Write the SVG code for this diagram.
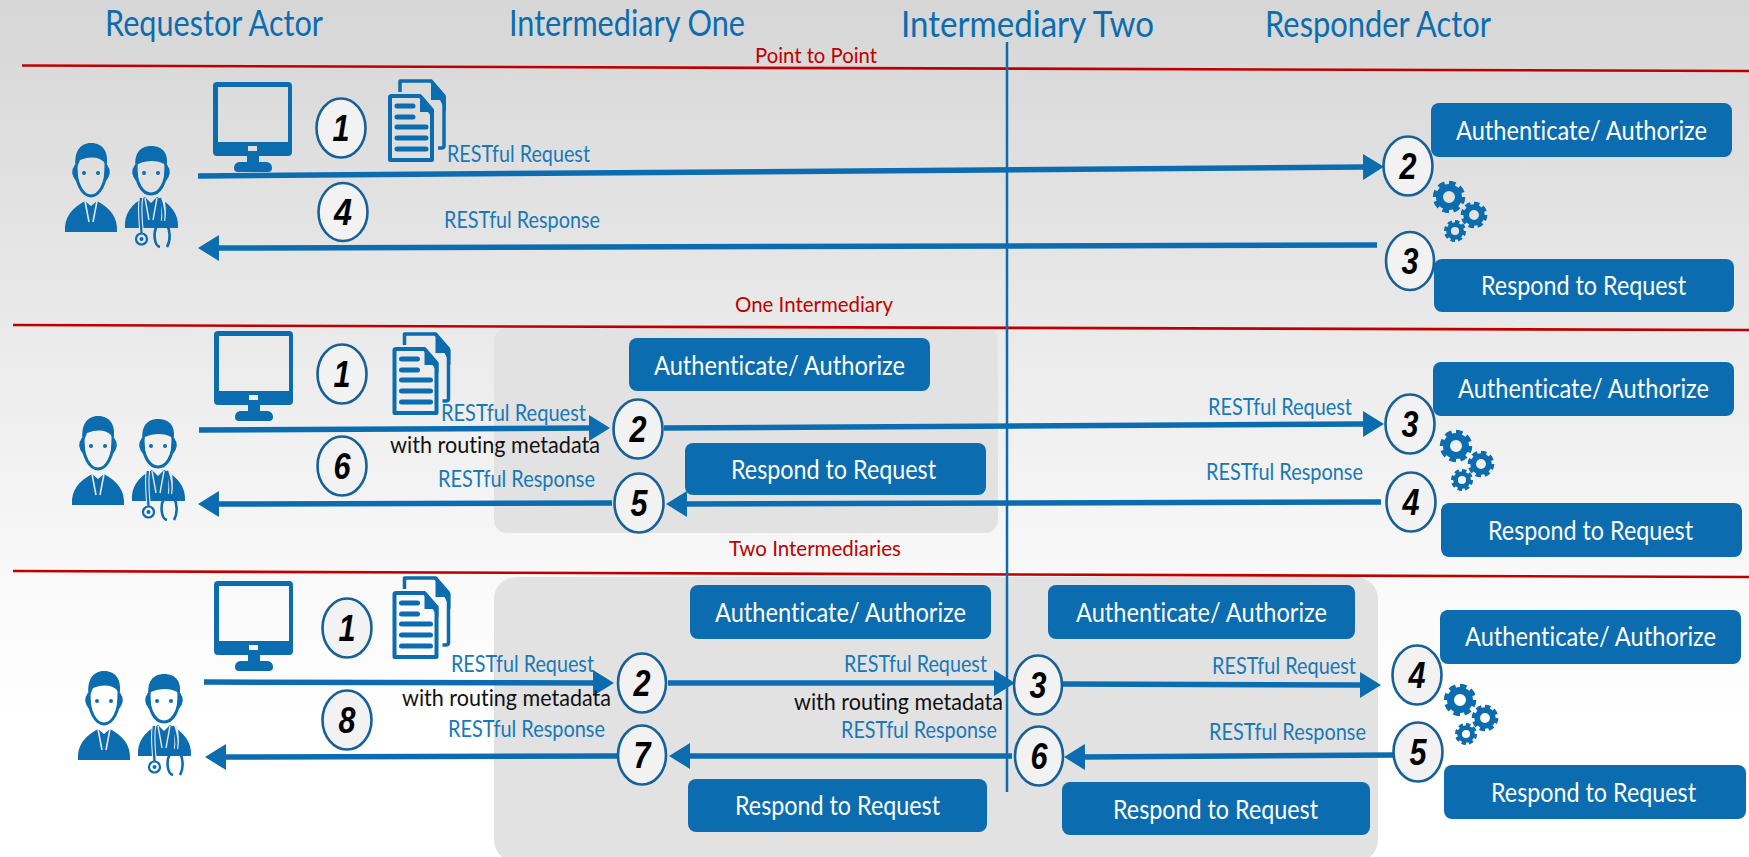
<svg xmlns="http://www.w3.org/2000/svg" xmlns:xlink="http://www.w3.org/1999/xlink" width="1749" height="857" viewBox="0 0 1749 857">
<style>
text{font-family:"Lato","Noto Sans","Liberation Sans",sans-serif;font-variant-ligatures:none}
.hd{font-size:36px;fill:#0b6cb0}
.lb{font-size:23px;fill:#1878b8}
.bk{font-size:23px;fill:#111}
.rd{font-size:21px;fill:#c00000}
.bx{fill:#0b6cb0}
.bt{font-size:26.500px;fill:#fff}
.pn{fill:#e2e2e2}
.cc{fill:#f2f2f2;stroke:#17609a;stroke-width:2.6}
.nm{font-family:"Liberation Sans",sans-serif;font-size:36px;font-weight:bold;font-style:italic;fill:#000;text-anchor:middle}
.rl{stroke:#c00000;stroke-width:2.6;fill:none}
.ar{stroke:#0b6cb0;stroke-width:5.5;fill:none}
.ah{marker-end:url(#head)}
.ic{fill:#0b6cb0}
.il{fill:none;stroke:#0b6cb0}
</style>
<defs>
<linearGradient id="bg" x1="0" y1="0" x2="0" y2="1">
<stop offset="0" stop-color="#d6d6d6"/><stop offset="0.35" stop-color="#e8e8e8"/><stop offset="0.72" stop-color="#fbfbfb"/><stop offset="0.85" stop-color="#fff"/>
</linearGradient>
<marker id="head" markerUnits="userSpaceOnUse" markerWidth="24" markerHeight="28" refX="2" refY="14" orient="auto">
<path d="M0 1L21 14L0 27Z" fill="#0b6cb0"/>
</marker>
<g id="people">
<!-- man -->
<path class="il" stroke-width="3" d="M76 165C75 184 83 196 91 196C99 196 107 184 106 165"/>
<path class="ic" d="M76 170C73 152 80 143 91 143C103 143 110 152 106 170L104 162C100 158 92 155 80 160Z"/>
<path class="ic" d="M75 165Q69 172 76 181L78 178L77 166ZM107 165Q113 172 106 181L104 178L105 166Z"/>
<circle class="ic" cx="84" cy="173" r="2"/><circle class="ic" cx="98" cy="173" r="2"/>
<path class="ic" d="M65 232C64 217 72 208 85 201L91 206L97 201C110 208 118 217 117 232Z"/>
<path d="M85 201L89 222M97 201L93 222" stroke="#e6e6e6" stroke-width="1.600" fill="none"/>
<!-- doctor -->
<path class="il" stroke-width="3" d="M136 165C135 184 143 194 151 194C159 194 167 184 166 165"/>
<path class="ic" d="M136 170C133 154 140 146 151 146C163 146 170 154 166 170L164 164C158 160 146 160 138 164Z"/>
<path class="ic" d="M135 165Q129 172 136 181L138 178L137 166ZM167 165Q173 172 166 181L164 178L165 166Z"/>
<circle class="ic" cx="144" cy="173" r="2"/><circle class="ic" cx="158" cy="173" r="2"/>
<path class="ic" d="M125 228C124 214 131 204 145 197L151 203L157 197C171 204 179 214 178 228Z"/>
<path d="M145 198L149 220M157 198L153 220" stroke="#e6e6e6" stroke-width="1.400" fill="none"/>
<path d="M141 198C139 210 141 222 141.500 233M162 198C164 206 164 214 163 221" stroke="#e6e6e6" stroke-width="4.500" fill="none"/>
<path class="il" d="M141 198C139 210 141 222 141.500 233" stroke-width="2.200"/>
<circle class="il" cx="141.500" cy="239" r="5.500" stroke-width="2.200"/><circle class="ic" cx="141.500" cy="239" r="2"/>
<path class="il" d="M160 198C163 206 164 214 163 221" stroke-width="2.200"/>
<path class="il" d="M157 226C153 232 154 246 160 247M167 247C171 240 170 230 167 225C164 220 160 222 157 226" stroke-width="2.600"/>
</g>
<g id="monitor">
<path class="ic" fill-rule="evenodd" d="M217 82H288Q292 82 292 86V152Q292 156 288 156H217Q213 156 213 152V86Q213 82 217 82ZM218 87V142H288V87ZM248 146V151H257V146Z"/>
<path class="ic" d="M247 156H259V162H267Q272 163 272 168Q272 172 268 172H238Q234 172 234 168Q234 163 239 162H247Z"/>
</g>
<g id="docs">
<path class="il" stroke-width="3.500" stroke-linejoin="round" d="M400 92V81H431L444 96V146C444 148 442 148 438 148"/>
<path class="ic" d="M431 79L446 97L446 112L440 100L431 100Z"/>
<path class="il" stroke-width="4" stroke-linejoin="round" d="M390 97Q390 96 392 96H420L432 110V160H390Z"/>
<path class="ic" d="M420 94L434 110V120L428 112H420Z"/>
<path d="M397 106H413M397 117H413M397 127H426M397 138H426M397 149H426" stroke="#0b6cb0" stroke-width="5" stroke-linecap="round" fill="none"/>
</g>
<g id="gear">
<circle class="il" r="9.500" stroke-width="7"/>
<circle class="il" r="14" stroke-width="4.500" pathLength="16" stroke-dasharray="1.200 .8"/>
</g>
<g id="gears">
<use xlink:href="#gear" href="#gear" transform="translate(1449 197)"/>
<use xlink:href="#gear" href="#gear" transform="translate(1474 215) scale(.82)"/>
<use xlink:href="#gear" href="#gear" transform="translate(1455 231) scale(.68)"/>
</g>
</defs>

<rect width="1749" height="857" fill="url(#bg)"/>
<rect id="panel-one" class="pn" x="494" y="328" width="504" height="205" rx="13"/>
<rect id="panel-two" class="pn" x="494" y="577" width="884" height="285" rx="22"/>

<g id="headers">
<text class="hd" x="105" y="36" textLength="218" lengthAdjust="spacingAndGlyphs">Requestor Actor</text>
<text class="hd" x="509" y="36" textLength="236" lengthAdjust="spacingAndGlyphs">Intermediary One</text>
<text class="hd" x="901" y="37" textLength="253" lengthAdjust="spacingAndGlyphs">Intermediary Two</text>
<text class="hd" x="1265" y="37" textLength="226" lengthAdjust="spacingAndGlyphs">Responder Actor</text>
</g>
<g id="separators">
<line class="rl" x1="22" y1="65.500" x2="1749" y2="71"/>
<line class="rl" x1="13" y1="325" x2="1749" y2="330"/>
<line class="rl" x1="13" y1="571" x2="1749" y2="577"/>
<text class="rd" x="755" y="63" textLength="122" lengthAdjust="spacingAndGlyphs">Point to Point</text>
<text class="rd" x="735" y="312" textLength="158" lengthAdjust="spacingAndGlyphs">One Intermediary</text>
<text class="rd" x="729" y="556" textLength="172" lengthAdjust="spacingAndGlyphs">Two Intermediaries</text>
</g>

<g id="connectors">
<line x1="1007" y1="42" x2="1007" y2="792" stroke="#0b6cb0" stroke-width="2.500"/>
<line class="ar ah" x1="198" y1="176" x2="1365" y2="167"/>
<line class="ar ah" x1="1377" y1="245" x2="217" y2="248"/>
<line class="ar ah" x1="199" y1="430" x2="591" y2="428"/>
<line class="ar ah" x1="664" y1="428" x2="1365" y2="424"/>
<line class="ar ah" x1="1381" y1="502" x2="685" y2="504"/>
<line class="ar ah" x1="612" y1="503" x2="217" y2="504"/>
<line class="ar ah" x1="204" y1="682" x2="595" y2="683"/>
<line class="ar ah" x1="668" y1="683" x2="996" y2="683"/>
<line class="ar ah" x1="1060" y1="684" x2="1362" y2="685"/>
<line class="ar ah" x1="1394" y1="755" x2="1083" y2="757"/>
<line class="ar ah" x1="1012" y1="756" x2="688" y2="756"/>
<line class="ar ah" x1="617" y1="756" x2="224" y2="757"/>
</g>

<g id="labels">
<text class="lb" x="447" y="162" textLength="143" lengthAdjust="spacingAndGlyphs">RESTful Request</text>
<text class="lb" x="444" y="228" textLength="156" lengthAdjust="spacingAndGlyphs">RESTful Response</text>
<text class="lb" x="441" y="421" textLength="145" lengthAdjust="spacingAndGlyphs">RESTful Request</text>
<text class="bk" x="390" y="453" textLength="210" lengthAdjust="spacingAndGlyphs">with routing metadata</text>
<text class="lb" x="438" y="487" textLength="157" lengthAdjust="spacingAndGlyphs">RESTful Response</text>
<text class="lb" x="1208" y="415" textLength="144" lengthAdjust="spacingAndGlyphs">RESTful Request</text>
<text class="lb" x="1206" y="480" textLength="157" lengthAdjust="spacingAndGlyphs">RESTful Response</text>
<text class="lb" x="451" y="672" textLength="143" lengthAdjust="spacingAndGlyphs">RESTful Request</text>
<text class="bk" x="402" y="706" textLength="209" lengthAdjust="spacingAndGlyphs">with routing metadata</text>
<text class="lb" x="448" y="737" textLength="157" lengthAdjust="spacingAndGlyphs">RESTful Response</text>
<text class="lb" x="844" y="672" textLength="143" lengthAdjust="spacingAndGlyphs">RESTful Request</text>
<text class="bk" x="794" y="710" textLength="209" lengthAdjust="spacingAndGlyphs">with routing metadata</text>
<text class="lb" x="841" y="738" textLength="156" lengthAdjust="spacingAndGlyphs">RESTful Response</text>
<text class="lb" x="1212" y="674" textLength="144" lengthAdjust="spacingAndGlyphs">RESTful Request</text>
<text class="lb" x="1209" y="740" textLength="157" lengthAdjust="spacingAndGlyphs">RESTful Response</text>
</g>

<g id="requestor-1"><use xlink:href="#people" href="#people"/><use xlink:href="#monitor" href="#monitor"/><use xlink:href="#docs" href="#docs"/></g>
<g id="requestor-2" ><use xlink:href="#people" href="#people" x="7" y="273"/><use xlink:href="#monitor" href="#monitor" x="1" y="249"/><use xlink:href="#docs" href="#docs" x="4.500" y="253"/></g>
<g id="requestor-3"><use xlink:href="#people" href="#people" x="13" y="528"/><use xlink:href="#monitor" href="#monitor" x="1" y="499"/><use xlink:href="#docs" href="#docs" x="4.500" y="497"/></g>
<g id="gears-1"><use xlink:href="#gears" href="#gears"/></g>
<g id="gears-2"><use xlink:href="#gears" href="#gears" x="7" y="249"/></g>
<g id="gears-3"><use xlink:href="#gears" href="#gears" x="11" y="503"/></g>

<g id="auth-1"><rect class="bx" x="1431" y="103" width="301" height="54" rx="8"/><text class="bt" x="1456" y="140" textLength="251" lengthAdjust="spacingAndGlyphs">Authenticate/ Authorize</text></g>
<g id="resp-1"><rect class="bx" x="1434" y="259" width="300" height="53" rx="8"/><text class="bt" x="1481" y="295" textLength="205" lengthAdjust="spacingAndGlyphs">Respond to Request</text></g>
<g id="auth-2a"><rect class="bx" x="629" y="338" width="301" height="53" rx="8"/><text class="bt" x="654" y="375" textLength="251" lengthAdjust="spacingAndGlyphs">Authenticate/ Authorize</text></g>
<g id="resp-2a"><rect class="bx" x="685" y="443" width="301" height="52" rx="8"/><text class="bt" x="731" y="479" textLength="205" lengthAdjust="spacingAndGlyphs">Respond to Request</text></g>
<g id="auth-2b"><rect class="bx" x="1433" y="362" width="301" height="54" rx="8"/><text class="bt" x="1458" y="398" textLength="251" lengthAdjust="spacingAndGlyphs">Authenticate/ Authorize</text></g>
<g id="resp-2b"><rect class="bx" x="1441" y="503" width="301" height="54" rx="8"/><text class="bt" x="1488" y="540" textLength="205" lengthAdjust="spacingAndGlyphs">Respond to Request</text></g>
<g id="auth-3a"><rect class="bx" x="690" y="585" width="301" height="54" rx="8"/><text class="bt" x="715" y="622" textLength="251" lengthAdjust="spacingAndGlyphs">Authenticate/ Authorize</text></g>
<g id="resp-3a"><rect class="bx" x="688" y="779" width="299" height="53" rx="8"/><text class="bt" x="735" y="815" textLength="205" lengthAdjust="spacingAndGlyphs">Respond to Request</text></g>
<g id="auth-3b"><rect class="bx" x="1048" y="585" width="307" height="54" rx="8"/><text class="bt" x="1076" y="622" textLength="251" lengthAdjust="spacingAndGlyphs">Authenticate/ Authorize</text></g>
<g id="resp-3b"><rect class="bx" x="1062" y="782" width="308" height="53" rx="8"/><text class="bt" x="1113" y="819" textLength="205" lengthAdjust="spacingAndGlyphs">Respond to Request</text></g>
<g id="auth-3c"><rect class="bx" x="1440" y="610" width="301" height="54" rx="8"/><text class="bt" x="1465" y="646" textLength="251" lengthAdjust="spacingAndGlyphs">Authenticate/ Authorize</text></g>
<g id="resp-3c"><rect class="bx" x="1444" y="765" width="302" height="54" rx="8"/><text class="bt" x="1491" y="802" textLength="205" lengthAdjust="spacingAndGlyphs">Respond to Request</text></g>

<g id="step-1-1"><ellipse class="cc" cx="341" cy="128" rx="24.500" ry="29.500"/><text class="nm" x="341" y="141" textLength="17" lengthAdjust="spacingAndGlyphs">1</text></g>
<g id="step-1-4"><ellipse class="cc" cx="343" cy="212" rx="24.500" ry="29"/><text class="nm" x="343" y="225" textLength="18" lengthAdjust="spacingAndGlyphs">4</text></g>
<g id="step-1-2"><ellipse class="cc" cx="1408" cy="166" rx="24.500" ry="29.500"/><text class="nm" x="1408" y="179" textLength="17" lengthAdjust="spacingAndGlyphs">2</text></g>
<g id="step-1-3"><ellipse class="cc" cx="1410" cy="261" rx="24" ry="29"/><text class="nm" x="1410" y="274" textLength="17" lengthAdjust="spacingAndGlyphs">3</text></g>
<g id="step-2-1"><ellipse class="cc" cx="342" cy="374" rx="24.500" ry="29.500"/><text class="nm" x="342" y="387" textLength="17" lengthAdjust="spacingAndGlyphs">1</text></g>
<g id="step-2-6"><ellipse class="cc" cx="342" cy="466" rx="24.500" ry="29.500"/><text class="nm" x="342" y="479" textLength="17" lengthAdjust="spacingAndGlyphs">6</text></g>
<g id="step-2-2"><ellipse class="cc" cx="638" cy="429" rx="24.500" ry="29.500"/><text class="nm" x="638" y="442" textLength="17" lengthAdjust="spacingAndGlyphs">2</text></g>
<g id="step-2-5"><ellipse class="cc" cx="639" cy="503" rx="24.500" ry="29.500"/><text class="nm" x="639" y="516" textLength="17" lengthAdjust="spacingAndGlyphs">5</text></g>
<g id="step-2-3"><ellipse class="cc" cx="1410" cy="424" rx="24.500" ry="29.500"/><text class="nm" x="1410" y="437" textLength="17" lengthAdjust="spacingAndGlyphs">3</text></g>
<g id="step-2-4"><ellipse class="cc" cx="1411" cy="502" rx="24.500" ry="29.500"/><text class="nm" x="1411" y="515" textLength="17" lengthAdjust="spacingAndGlyphs">4</text></g>
<g id="step-3-1"><ellipse class="cc" cx="347" cy="628" rx="24.500" ry="29.500"/><text class="nm" x="347" y="641" textLength="17" lengthAdjust="spacingAndGlyphs">1</text></g>
<g id="step-3-8"><ellipse class="cc" cx="347" cy="720" rx="24.500" ry="29.500"/><text class="nm" x="347" y="733" textLength="17" lengthAdjust="spacingAndGlyphs">8</text></g>
<g id="step-3-2"><ellipse class="cc" cx="642" cy="683" rx="24" ry="29.500"/><text class="nm" x="642" y="696" textLength="17" lengthAdjust="spacingAndGlyphs">2</text></g>
<g id="step-3-7"><ellipse class="cc" cx="642" cy="755" rx="24" ry="29.500"/><text class="nm" x="642" y="768" textLength="17" lengthAdjust="spacingAndGlyphs">7</text></g>
<g id="step-3-3"><ellipse class="cc" cx="1038" cy="685" rx="24" ry="29.500"/><text class="nm" x="1038" y="698" textLength="17" lengthAdjust="spacingAndGlyphs">3</text></g>
<g id="step-3-6"><ellipse class="cc" cx="1039" cy="756" rx="24" ry="29.500"/><text class="nm" x="1039" y="769" textLength="17" lengthAdjust="spacingAndGlyphs">6</text></g>
<g id="step-3-4"><ellipse class="cc" cx="1417" cy="675" rx="24.500" ry="29.500"/><text class="nm" x="1417" y="688" textLength="17" lengthAdjust="spacingAndGlyphs">4</text></g>
<g id="step-3-5"><ellipse class="cc" cx="1418" cy="752" rx="24.500" ry="29.500"/><text class="nm" x="1418" y="765" textLength="17" lengthAdjust="spacingAndGlyphs">5</text></g>
</svg>
